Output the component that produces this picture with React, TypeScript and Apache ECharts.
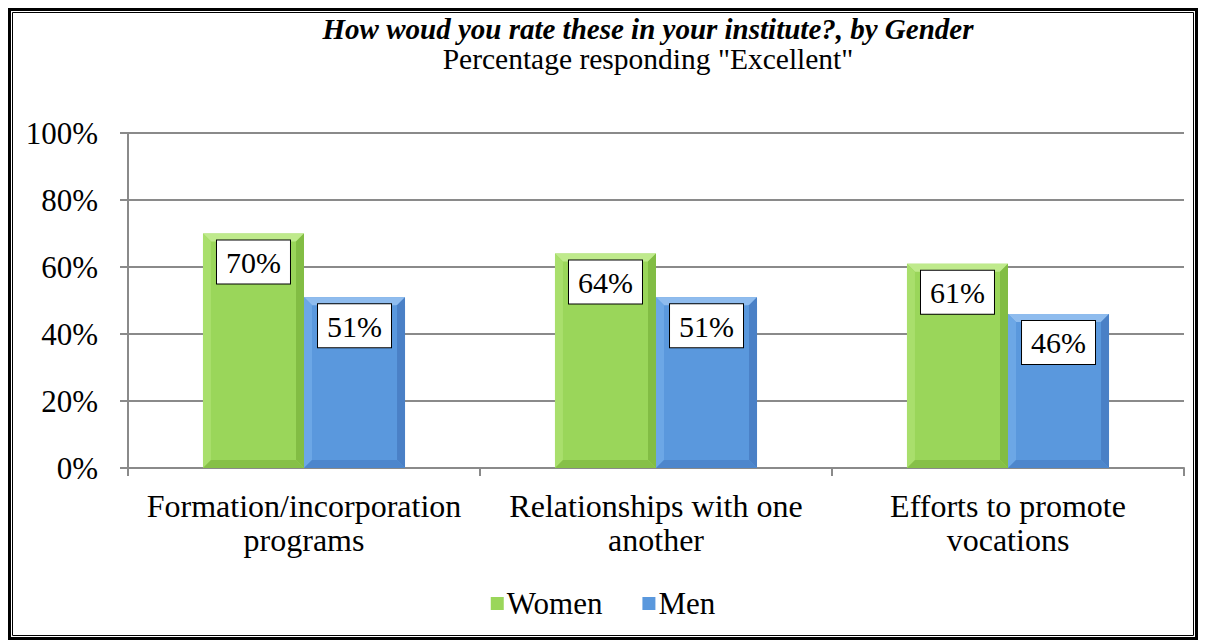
import React, { useEffect, useRef } from "react";
import * as echarts from "echarts";

const categories = [
  "Formation/incorporation\nprograms",
  "Relationships with one\nanother",
  "Efforts to promote\nvocations",
];
const seriesNames = ["Women", "Men"];
const womenValues = [70, 64, 61];
const menValues = [51, 51, 46];
const yTicks = [0, 20, 40, 60, 80, 100];

const titleText = "How woud you rate these in your institute?, by Gender";
const subtitleText = 'Percentage responding "Excellent"';

const FONT = "Liberation Serif";

const palettes = [
  { main: "#9ad65a", top: "#bfea8c", left: "#a9df6c", right: "#82bd44", bottom: "#86c048" },
  { main: "#5a98dd", top: "#8fbcee", left: "#6ca7e6", right: "#4a80c6", bottom: "#4d86cc" },
];

function makeRenderItem(seriesIdx: number) {
  return (params: any, api: any) => {
    const cat = api.value(0);
    const val = api.value(1);
    const base = api.coord([cat, 0]);
    const top = api.coord([cat, val]);
    const band = api.size([1, 0])[0];
    const w = band * 0.287;
    const x0 = seriesIdx === 0 ? base[0] - w : base[0];
    const x1 = x0 + w;
    const y0 = top[1];
    const y1 = base[1];
    const b = 8;
    const p = palettes[seriesIdx];
    return {
      type: "group",
      children: [
        { type: "rect", shape: { x: x0, y: y0, width: w, height: y1 - y0 }, style: { fill: p.main } },
        { type: "polygon", shape: { points: [[x0, y0], [x1, y0], [x1 - b, y0 + b], [x0 + b, y0 + b]] }, style: { fill: p.top } },
        { type: "polygon", shape: { points: [[x0, y0], [x0 + b, y0 + b], [x0 + b, y1 - b], [x0, y1]] }, style: { fill: p.left } },
        { type: "polygon", shape: { points: [[x1, y0], [x1, y1], [x1 - b, y1 - b], [x1 - b, y0 + b]] }, style: { fill: p.right } },
        { type: "polygon", shape: { points: [[x0, y1], [x0 + b, y1 - b], [x1 - b, y1 - b], [x1, y1]] }, style: { fill: p.bottom } },
        {
          type: "text",
          x: (x0 + x1) / 2,
          y: y0 + 7,
          style: {
            text: val + "%",
            fontSize: 30,
            fontFamily: FONT,
            fill: "#000",
            backgroundColor: "#fff",
            borderColor: "#000",
            borderWidth: 1,
            padding: [7, 9, 6, 9],
            align: "center",
            verticalAlign: "top",
          },
        },
      ],
    };
  };
}

export default function App() {
  const ref = useRef<HTMLDivElement>(null);
  useEffect(() => {
    if (!ref.current) return;
    const chart = echarts.init(ref.current, null, { renderer: "svg" });
    const W = 1190;
    const H = 632;
    const seriesData = [womenValues, menValues];
    chart.setOption({
      animation: false,
      backgroundColor: "#fff",
      textStyle: { fontFamily: FONT },
      graphic: [
        { type: "rect", shape: { x: 1.5, y: 1.5, width: W - 3, height: H - 3 }, style: { fill: "none", stroke: "#000", lineWidth: 3 } },
        { type: "rect", shape: { x: 4.5, y: 4.5, width: W - 9, height: H - 9 }, style: { fill: "none", stroke: "#000", lineWidth: 1 } },
        {
          type: "text", x: 640, y: 21,
          style: { text: titleText, fontSize: 29, lineHeight: 29, fontWeight: "bold", fontStyle: "italic", fontFamily: FONT, fill: "#000", align: "center", verticalAlign: "middle", textAlign: "center", textVerticalAlign: "middle" },
        },
        {
          type: "text", x: 640, y: 51,
          style: { text: subtitleText, fontSize: 29.5, lineHeight: 29, fontFamily: FONT, fill: "#000", align: "center", verticalAlign: "middle", textAlign: "center", textVerticalAlign: "middle" },
        },
      ],
      legend: {
        data: seriesNames.map((n, i) => ({ name: n, itemStyle: { color: palettes[i].main } })),
        bottom: 16,
        left: "center",
        icon: "rect",
        itemWidth: 13,
        itemHeight: 13,
        itemGap: 40,
        textStyle: { fontSize: 31, fontFamily: FONT, color: "#000", padding: [0, 0, 0, -2] },
      },
      grid: { left: 120, right: 14, top: 125, bottom: 172, containLabel: false },
      xAxis: {
        type: "category",
        data: categories,
        axisLine: { show: true, lineStyle: { color: "#8a8a8a", width: 2 } },
        axisTick: { show: true, length: 8, lineStyle: { color: "#8a8a8a", width: 2 } },
        axisLabel: { fontSize: 32, fontFamily: FONT, color: "#000", margin: 21, lineHeight: 34, interval: 0 },
      },
      yAxis: {
        type: "value",
        min: yTicks[0],
        max: yTicks[yTicks.length - 1],
        interval: 20,
        axisLine: { show: true, lineStyle: { color: "#8a8a8a", width: 2 } },
        axisTick: { show: true, length: 8, lineStyle: { color: "#8a8a8a", width: 2 } },
        splitLine: { show: true, lineStyle: { color: "#8a8a8a", width: 2 } },
        axisLabel: { fontSize: 31, fontFamily: FONT, color: "#000", margin: 30, formatter: "{value}%" },
      },
      series: seriesNames.map((name, si) => ({
        type: "custom",
        name,
        itemStyle: { color: palettes[si].main },
        renderItem: makeRenderItem(si),
        encode: { x: 0, y: 1 },
        data: seriesData[si].map((v, i) => [i, v]),
        z: 3,
      })),
    });
    return () => chart.dispose();
  }, []);
  return <div ref={ref} style={{ width: 1190, height: 632 }} />;
}
